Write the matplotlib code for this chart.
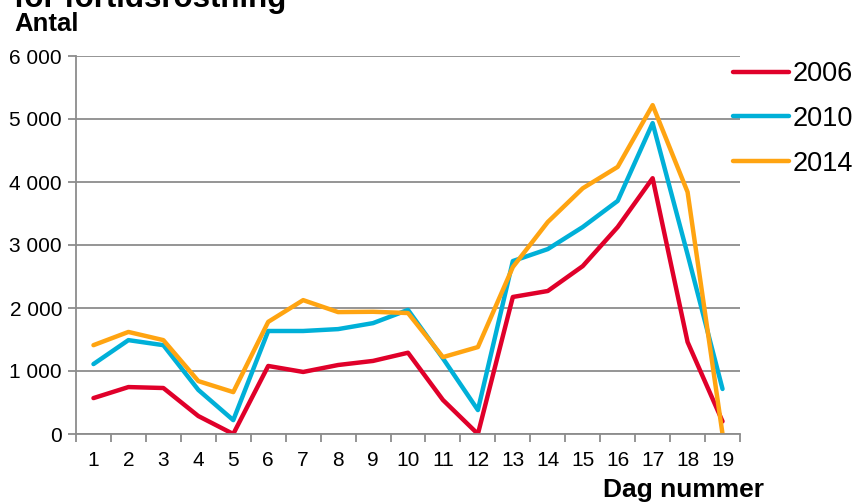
import numpy as np
import matplotlib.pyplot as plt

plt.rcParams['font.family'] = ['Liberation Sans', 'DejaVu Sans']

days = list(range(1, 20))
y2006 = [570, 745, 730, 285, 0, 1080, 985, 1095, 1160, 1290, 540, 0, 2175, 2270, 2665, 3285, 4060, 1460, 200]
y2010 = [1110, 1490, 1410, 700, 220, 1635, 1635, 1665, 1760, 1970, 1200, 380, 2745, 2935, 3285, 3700, 4935, 2850, 715]
y2014 = [1410, 1620, 1490, 840, 665, 1780, 2125, 1935, 1940, 1920, 1220, 1380, 2650, 3365, 3900, 4240, 5220, 3840, 0]
yticks = [0, 1000, 2000, 3000, 4000, 5000, 6000]
ylabels = ['0', '1 000', '2 000', '3 000', '4 000', '5 000', '6 000']

fig = plt.figure(figsize=(8.53, 5.04), dpi=100)
ax = fig.add_axes([76/853, 1-434/504, (740-76)/853, (434-56)/504])

ax.plot(days, y2006, color='#e0002a', lw=3.2, label='2006', solid_capstyle='round')
ax.plot(days, y2010, color='#00b0d8', lw=3.2, label='2010', solid_capstyle='round')
ax.plot(days, y2014, color='#ffa411', lw=3.2, label='2014', solid_capstyle='round')

ax.set_xlim(0.5, 19.5)
ax.set_ylim(0, 6000)
ax.set_yticks(yticks)
ax.set_yticklabels(ylabels)
ax.yaxis.grid(True, color='#8c8c8c', lw=1.3)
ax.set_axisbelow(True)
ax.set_xticks(days)
ax.set_xticklabels([str(d) for d in days])
ax.set_xticks(np.arange(0.5, 20, 1), minor=True)
ax.tick_params(axis='x', which='major', length=0, pad=12, labelsize=15)
ax.tick_params(axis='x', which='minor', length=6, width=1.3, color='#8c8c8c', direction='out')
ax.tick_params(axis='y', length=6, width=1.3, color='#8c8c8c', labelsize=15, pad=4)
for s in ['top', 'right']:
    ax.spines[s].set_visible(False)
for s in ['left', 'bottom']:
    ax.spines[s].set_color('#8c8c8c')
    ax.spines[s].set_linewidth(1.3)

ax.legend(loc='upper left', bbox_to_anchor=(733/853, 1-61/504), bbox_transform=fig.transFigure,
          frameon=False, fontsize=19.5, handlelength=2.05, handletextpad=0.15,
          labelspacing=0.7, borderaxespad=0, borderpad=0)

fig.text(14/853, 1-7/504, 'för förtidsröstning', fontsize=22.5, fontweight='bold', va='baseline')
fig.text(14/853, 1-31/504, 'Antal', fontsize=18.5, fontweight='bold', va='baseline')
fig.text(764/853, 1-490/504, 'Dag nummer', fontsize=19, fontweight='bold', va='center', ha='right')

fig.savefig('out.png', dpi=100)
